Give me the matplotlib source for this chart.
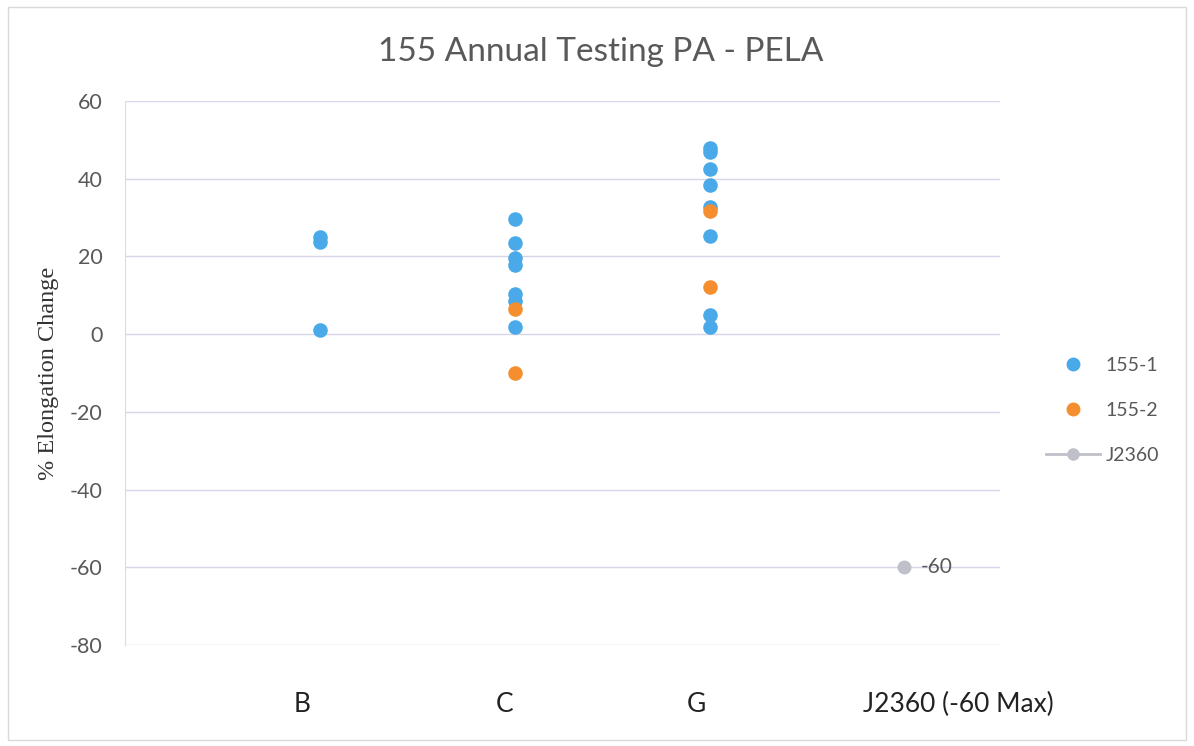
import matplotlib.pyplot as plt
from matplotlib.lines import Line2D

# data
categories = ["B", "C", "G", "J2360 (-60 Max)"]
cat_x = [1, 2, 3, 4]

s1_x = [1, 1, 1,
        2, 2, 2, 2, 2, 2, 2,
        3, 3, 3, 3, 3, 3, 3, 3]
s1_y = [25.0, 23.8, 1.0,
        29.6, 23.4, 19.6, 17.8, 10.3, 8.5, 1.8,
        47.9, 46.8, 42.5, 38.3, 32.7, 25.2, 4.9, 1.8]

s2_x = [2, 2, 3, 3]
s2_y = [6.4, -10.0, 31.7, 12.1]

j_x = [4]
j_y = [-60]

blue = "#4aa9e9"
orange = "#f58e2f"
grey = "#bfc0c9"
textc = "#595959"

plt.rcParams['font.family'] = ['Lato', 'DejaVu Sans']
plt.rcParams['axes.unicode_minus'] = False

fig = plt.figure(figsize=(11.94, 7.46), dpi=100)
ax = fig.add_axes([0.1047, 0.1354, 0.7328, 0.7292])

ax.scatter(s1_x, s1_y, s=110, color=blue, zorder=3, linewidths=0, label="155-1")
ax.scatter(s2_x, s2_y, s=110, color=orange, zorder=4, linewidths=0, label="155-2")
ax.plot(j_x, j_y, color=grey, marker='o', markersize=9, zorder=3, label="J2360")
ax.annotate(str(j_y[0]), (j_x[0], j_y[0]), xytext=(12, 0), textcoords='offset points',
            va='center', ha='left', fontsize=15, color=textc)

ax.set_xlim(0, 4.49)
ax.set_ylim(-80, 60)
ax.set_yticks(range(-80, 61, 20))
ax.grid(axis='y', color="#d6d6ea", linewidth=1)
ax.set_axisbelow(True)
for sp in ['top', 'right', 'bottom']:
    ax.spines[sp].set_visible(False)
ax.spines['left'].set_color("#dcdcdc")
ax.tick_params(axis='y', length=0, labelsize=15.5, labelcolor=textc, pad=16)

# category labels sit a bit left of the points, as in the reference
ax.set_xticks([0.91, 1.95, 2.93, 4.275])
ax.set_xticklabels(categories, fontsize=19, color="#222222")
ax.tick_params(axis='x', length=0, pad=34)

ax.set_ylabel("% Elongation Change", family=['Liberation Serif', 'DejaVu Serif'],
              fontsize=17.5, color="#333333", labelpad=8)
fig.text(0.503, 0.93, "155 Annual Testing PA - PELA", ha='center', va='center',
         fontsize=24, color=textc)

handles = [
    Line2D([], [], linestyle='none', marker='o', markersize=9, color=blue),
    Line2D([], [], linestyle='none', marker='o', markersize=9, color=orange),
    Line2D([], [], color=grey, marker='o', markersize=8, linewidth=2),
]
fig.legend(handles, ["155-1", "155-2", "J2360"], loc='center left',
           bbox_to_anchor=(0.861, 0.45), frameon=False, fontsize=14,
           labelcolor=textc, handlelength=2.8, handletextpad=0.3, labelspacing=1.45)

# thin frame around the chart area
fig.patches.append(plt.Rectangle((0.007, 0.008), 0.986, 0.982, transform=fig.transFigure,
                                 fill=False, edgecolor="#d9d9d9", linewidth=1))

fig.savefig("out.png", dpi=100)
